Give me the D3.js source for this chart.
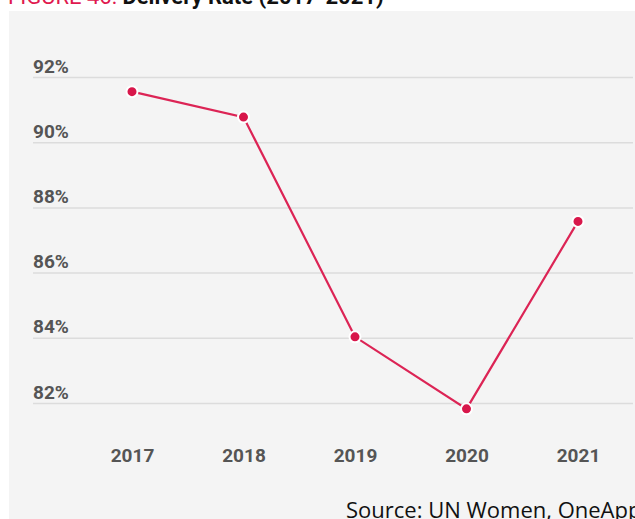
<!DOCTYPE html>
<html>
<head>
<meta charset="utf-8">
<script src="https://cdn.jsdelivr.net/npm/d3@7"></script>
<style>
  body { margin: 0; background: #fff; }
  svg { display: block; }
</style>
</head>
<body>
<div id="chart"></div>
<script>
// chart data
var years = ["2017", "2018", "2019", "2020", "2021"];
var rates = [91.55, 90.77, 84.03, 81.82, 87.57];
var yTicks = [82, 84, 86, 88, 90, 92];

var svgWidth = 635;
var svgHeight = 519;

var svg = d3.select("#chart")
  .append("svg")
  .attr("width", svgWidth)
  .attr("height", svgHeight);

// grey panel
svg.append("rect")
  .attr("x", 9)
  .attr("y", 11)
  .attr("width", svgWidth - 9)
  .attr("height", svgHeight - 11)
  .attr("fill", "#f4f4f4");

// title (cut off at the top of the picture)
var title = svg.append("text")
  .attr("x", 8)
  .attr("y", 4)
  .attr("font-family", "Roboto, sans-serif")
  .attr("font-size", 22);
title.append("tspan").attr("fill", "#e0194f").text("FIGURE 46: ");
title.append("tspan").attr("fill", "#111").attr("font-weight", "bold").text("Delivery Rate (2017-2021)");

// scales
var x = d3.scalePoint()
  .domain(years)
  .range([132, 578]);

var y = d3.scaleLinear()
  .domain([82, 92])
  .range([403, 77]);

// gridlines + y labels
var yAxis = svg.append("g")
  .attr("transform", "translate(33,0)")
  .call(d3.axisRight(y).tickValues(yTicks).tickSize(600).tickFormat(function(d) { return d + "%"; }));

yAxis.select(".domain").remove();
yAxis.selectAll(".tick line")
  .attr("stroke", "#dcdcdc")
  .attr("stroke-width", 1.5);
yAxis.selectAll(".tick text")
  .attr("x", 0)
  .attr("dy", -5)
  .attr("text-anchor", "start")
  .attr("fill", "#555")
  .attr("font-family", "Roboto, sans-serif")
  .attr("font-weight", "bold")
  .attr("font-size", 19);

// x labels
var xAxis = svg.append("g")
  .attr("transform", "translate(0,459)")
  .call(d3.axisBottom(x).tickSize(0));

xAxis.select(".domain").remove();
xAxis.selectAll(".tick text")
  .attr("dy", 0)
  .attr("fill", "#555")
  .attr("font-family", "Roboto, sans-serif")
  .attr("font-weight", "bold")
  .attr("font-size", 19);

// line
var line = d3.line()
  .x(function(d, i) { return x(years[i]); })
  .y(function(d) { return y(d); });

svg.append("path")
  .datum(rates)
  .attr("d", line)
  .attr("fill", "none")
  .attr("stroke", "#dc2455")
  .attr("stroke-width", 2.2);

// points
svg.selectAll("circle.pt")
  .data(rates)
  .enter().append("circle")
  .attr("class", "pt")
  .attr("cx", function(d, i) { return x(years[i]); })
  .attr("cy", function(d) { return y(d); })
  .attr("r", 5.5)
  .attr("fill", "#d8174b")
  .attr("stroke", "#fff")
  .attr("stroke-width", 2);

// source
svg.append("text")
  .attr("x", 346)
  .attr("y", 518)
  .attr("fill", "#111")
  .attr("font-family", "'Open Sans', sans-serif")
  .attr("font-size", 22)
  .text("Source: UN Women, OneApp");
</script>
</body>
</html>
